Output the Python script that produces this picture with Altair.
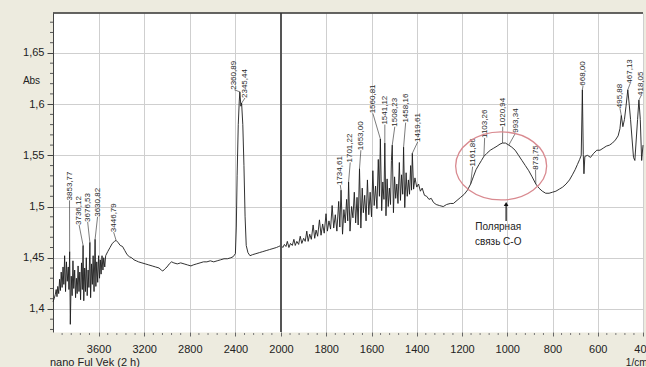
import altair as alt
import pandas as pd

# IR spectrum: wavenumber (1/cm) and absorbance, grouped by spectral region
region_oh = [
    (4000, 1.407), (3990, 1.410), (3980, 1.414), (3972, 1.419), (3965, 1.412),
    (3958, 1.422), (3950, 1.415), (3942, 1.429), (3935, 1.418), (3928, 1.436),
    (3920, 1.421), (3912, 1.441), (3905, 1.424), (3898, 1.452), (3890, 1.417),
    (3882, 1.446), (3875, 1.427), (3866, 1.441), (3860, 1.419), (3853.77, 1.456),
    (3848, 1.385), (3840, 1.432), (3832, 1.413), (3825, 1.447), (3818, 1.420),
    (3810, 1.438), (3802, 1.411), (3795, 1.430), (3788, 1.415), (3780, 1.442),
    (3772, 1.417), (3765, 1.436), (3758, 1.409), (3750, 1.445), (3743, 1.419),
    (3736.12, 1.462), (3730, 1.408), (3722, 1.440), (3715, 1.417), (3708, 1.450),
    (3700, 1.413), (3692, 1.438), (3685, 1.421), (3676.53, 1.465), (3670, 1.411),
    (3662, 1.444), (3655, 1.424), (3648, 1.452), (3640, 1.417), (3630.82, 1.468),
    (3624, 1.422), (3616, 1.446), (3608, 1.426), (3600, 1.452), (3592, 1.430),
    (3585, 1.448), (3578, 1.434), (3570, 1.452), (3562, 1.438), (3555, 1.450),
    (3546, 1.441), (3538, 1.452), (3520, 1.456), (3500, 1.460), (3480, 1.464),
    (3460, 1.466), (3446.79, 1.467), (3430, 1.465), (3410, 1.462), (3390, 1.461),
    (3370, 1.457), (3350, 1.453), (3330, 1.451), (3310, 1.450), (3290, 1.448),
    (3270, 1.447), (3250, 1.446), (3220, 1.445), (3190, 1.444), (3160, 1.443),
    (3130, 1.442), (3100, 1.441), (3070, 1.440), (3050, 1.438), (3037, 1.437),
    (3020, 1.439), (3000, 1.441), (2980, 1.444), (2960, 1.446), (2940, 1.445),
    (2910, 1.444), (2880, 1.445), (2850, 1.444), (2820, 1.443), (2790, 1.442),
    (2770, 1.443), (2740, 1.444), (2710, 1.445), (2680, 1.446), (2650, 1.446),
    (2620, 1.447), (2590, 1.446), (2560, 1.447), (2530, 1.448), (2500, 1.449),
    (2470, 1.449), (2440, 1.450), (2420, 1.451),
]

region_co2 = [
    (2400, 1.454), (2392, 1.480), (2385, 1.530), (2375, 1.580), (2366, 1.603),
    (2360.89, 1.612), (2352, 1.598), (2345.44, 1.601), (2335, 1.580), (2325, 1.540),
    (2315, 1.490), (2305, 1.462), (2290, 1.455), (2272, 1.452), (2250, 1.453),
    (2220, 1.454), (2190, 1.455), (2160, 1.456), (2130, 1.457), (2100, 1.458),
    (2070, 1.459), (2040, 1.460), (2020, 1.461),
]

region_fp1 = [
    (2000, 1.462), (1992, 1.460), (1985, 1.463), (1978, 1.461), (1972, 1.466),
    (1965, 1.460), (1958, 1.464), (1950, 1.462), (1943, 1.468), (1937, 1.462),
    (1930, 1.466), (1922, 1.463), (1915, 1.471), (1908, 1.464), (1900, 1.469),
    (1893, 1.466), (1886, 1.476), (1880, 1.466), (1873, 1.473), (1866, 1.468),
    (1858, 1.482), (1851, 1.469), (1845, 1.477), (1838, 1.471), (1830, 1.487),
    (1823, 1.472), (1816, 1.483), (1809, 1.474), (1801, 1.493), (1795, 1.476),
    (1788, 1.486), (1781, 1.478), (1774, 1.501), (1767, 1.479), (1760, 1.492),
    (1753, 1.476), (1745, 1.505), (1740, 1.480), (1734.61, 1.516), (1728, 1.473),
    (1722, 1.497), (1716, 1.484), (1710, 1.507), (1705, 1.486), (1701.22, 1.524),
    (1695, 1.476), (1688, 1.500), (1682, 1.489), (1676, 1.514), (1670, 1.484),
    (1664, 1.509), (1659, 1.482), (1653.00, 1.537), (1647, 1.479), (1641, 1.518),
    (1636, 1.494), (1630, 1.511), (1624, 1.486), (1618, 1.526), (1612, 1.492),
    (1606, 1.514), (1600, 1.490), (1594, 1.535), (1588, 1.501), (1582, 1.520),
    (1576, 1.498), (1570, 1.546), (1565, 1.510), (1560.81, 1.566), (1555, 1.496),
    (1550, 1.524), (1545, 1.507), (1541.12, 1.562), (1536, 1.491), (1531, 1.527),
    (1526, 1.500), (1521, 1.518), (1516, 1.502), (1512, 1.545), (1508.23, 1.560),
    (1503, 1.494), (1498, 1.529), (1493, 1.508), (1488, 1.522), (1483, 1.503),
    (1477, 1.543), (1472, 1.506), (1467, 1.531), (1462, 1.512), (1458.16, 1.558),
    (1453, 1.499), (1447, 1.533), (1442, 1.510), (1437, 1.526), (1432, 1.512),
    (1427, 1.540), (1423, 1.516), (1419.61, 1.552), (1414, 1.517), (1408, 1.528),
]

region_fp2 = [
    (1400, 1.519), (1392, 1.522), (1384, 1.515), (1376, 1.518), (1366, 1.511),
    (1356, 1.510), (1346, 1.507), (1336, 1.508), (1326, 1.504), (1314, 1.502),
    (1300, 1.501), (1283, 1.500), (1268, 1.502), (1252, 1.503), (1238, 1.503),
    (1222, 1.506), (1206, 1.509), (1190, 1.512), (1176, 1.516), (1161.86, 1.522),
    (1150, 1.529), (1138, 1.536), (1125, 1.541), (1114, 1.545), (1103.26, 1.549),
    (1090, 1.552), (1075, 1.555), (1060, 1.557), (1045, 1.559), (1032, 1.561),
    (1020.94, 1.562), (1008, 1.562), (993.34, 1.560), (980, 1.558), (965, 1.555),
    (950, 1.550), (935, 1.545), (920, 1.540), (905, 1.535), (890, 1.529),
    (873.75, 1.522), (860, 1.518), (845, 1.515), (830, 1.513), (815, 1.513),
    (800, 1.514), (785, 1.515), (770, 1.517), (755, 1.519), (740, 1.522),
    (725, 1.526), (712, 1.531), (700, 1.536), (690, 1.541), (680, 1.546),
    (673, 1.550), (668.00, 1.614), (664, 1.551), (661, 1.532), (657, 1.549),
    (645, 1.550), (632, 1.548), (618, 1.552), (604, 1.555), (590, 1.555),
    (576, 1.557), (562, 1.559), (548, 1.560), (535, 1.562), (522, 1.565),
    (510, 1.569), (502, 1.576), (495.88, 1.589), (489, 1.578), (482, 1.585),
    (475, 1.598), (467.13, 1.614), (461, 1.600), (455, 1.585), (448, 1.565),
    (442, 1.548), (436, 1.545), (430, 1.565), (424, 1.585), (418.05, 1.604),
    (412, 1.585), (406, 1.545), (400, 1.560),
]

# Peak annotations: text, peak position, and where the rotated label stands
peak_names = ["3853,77", "3736,12", "3676,53", "3630,82", "3446,79",
              "2360,89", "2345,44",
              "1734,61", "1701,22", "1653,00", "1560,81", "1541,12", "1508,23",
              "1458,16", "1419,61",
              "1161,86", "1103,26", "1020,94", "993,34", "873,75",
              "668,00", "495,88", "467,13", "418,05"]
peak_wn = [3853.77, 3736.12, 3676.53, 3630.82, 3446.79,
           2360.89, 2345.44,
           1734.61, 1701.22, 1653.00, 1560.81, 1541.12, 1508.23,
           1458.16, 1419.61,
           1161.86, 1103.26, 1020.94, 993.34, 873.75,
           668.00, 495.88, 467.13, 418.05]
label_wn = [3855, 3771, 3696, 3609, 3468,
            2409, 2316,
            1738, 1694, 1647, 1594, 1541, 1497, 1449, 1396,
            1153, 1100, 1020, 963, 875,
            665, 502, 457, 409]
label_abs = [1.506, 1.482, 1.485, 1.490, 1.475,
             1.614, 1.606,
             1.521, 1.543, 1.555, 1.591, 1.580, 1.578, 1.582, 1.563,
             1.539, 1.567, 1.578, 1.572, 1.536,
             1.618, 1.596, 1.620, 1.608]

x_ticks = [3600, 3200, 2800, 2400, 2000, 1800, 1600, 1400, 1200, 1000, 800, 600, 400]
y_ticks = [1.4, 1.45, 1.5, 1.55, 1.6, 1.65]
x_minor = [w for w in range(3920, 2000, -80) if w % 400] + [w for w in range(1960, 400, -40) if w % 200]
y_minor = [round(1.38 + 0.01 * i, 2) for i in range(31)]
y_minor = [v for v in y_minor if round(v * 100) % 5]

caption_lines = ["Полярная", "связь С-О"]
caption_wn = [1040, 1040]
caption_abs = [1.4801, 1.4655]

W, H = 590, 319
FONT = "Liberation Sans"

spectrum = pd.DataFrame(region_oh + region_co2 + region_fp1 + region_fp2,
                        columns=["wn", "absorb"])
lookup = dict(zip(spectrum["wn"], spectrum["absorb"]))
peaks = pd.DataFrame({
    "name": peak_names,
    "wn": peak_wn,
    "absorb": [lookup[w] for w in peak_wn],
    "lwn": label_wn,
    "labs": label_abs,
})

# Expanded scale below 2000 1/cm, as on the instrument printout
x_scale = alt.Scale(domain=[4000, 2000, 400], range=[0, 228, W], nice=False, zero=False)
y_scale = alt.Scale(domain=[1.3775, 1.689], nice=False, zero=False)

x_axis = alt.Axis(values=x_ticks, format="d", grid=True, gridColor="#cfcfcf", gridWidth=1,
                  domain=False, tickSize=4, tickColor="#666", labelFontSize=11,
                  labelColor="#222", labelPadding=7, labelFont=FONT, labelFlush=False,
                  labelOverlap=False, title="1/cm", titleX=W + 4, titleY=30,
                  titleAlign="right", titleBaseline="middle", titleFontSize=10,
                  titleFontWeight="normal", titleColor="#222", titleFont=FONT)
y_axis = alt.Axis(values=y_ticks, labelExpr="replace(format(datum.value, '.2~f'), '.', ',')",
                  grid=True, gridColor="#cfcfcf", gridWidth=1, domain=True,
                  domainColor="#444", domainWidth=1, tickSize=6, tickColor="#444",
                  labelPadding=3, labelFontSize=11, labelColor="#222", labelFont=FONT,
                  labelFlush=False, title="Abs", titleAngle=0, titleX=-22, titleY=67,
                  titleAlign="center", titleBaseline="middle", titleFontSize=10,
                  titleFontWeight="normal", titleColor="#222", titleFont=FONT)


def X(field):
    return alt.X(field, scale=x_scale, axis=x_axis)


def Y(field):
    return alt.Y(field, scale=y_scale, axis=y_axis)


line = alt.Chart(spectrum).mark_line(color="#1c1c1c", strokeWidth=0.9).encode(
    x=X("wn:Q"), y=Y("absorb:Q"))

split_rule = alt.Chart(pd.DataFrame({"wn": [2000]})).mark_rule(
    color="#555", strokeWidth=2).encode(x=X("wn:Q"))

one = pd.DataFrame({"k": [0]})
top_border = alt.Chart(one).mark_rule(color="#333", strokeWidth=1.5).encode(
    x=alt.value(0), x2=alt.value(W), y=alt.value(0))

x_minor_ticks = alt.Chart(pd.DataFrame({"wn": x_minor})).mark_rule(
    color="#777", strokeWidth=1).encode(
    x=X("wn:Q"), y=alt.value(H + 1), y2=alt.value(H + 3))

y_minor_ticks = alt.Chart(pd.DataFrame({"absorb": y_minor})).mark_rule(
    color="#555", strokeWidth=1).encode(
    y=Y("absorb:Q"), x=alt.value(-3), x2=alt.value(0))

leaders = alt.Chart(peaks).mark_rule(color="#444", strokeWidth=0.7).encode(
    x=X("wn:Q"), y=Y("absorb:Q"), x2="lwn:Q", y2="labs:Q")

peak_text = alt.Chart(peaks).mark_text(
    angle=270, align="left", baseline="middle", fontSize=8, color="#2a2a2a", font=FONT
).encode(x=X("lwn:Q"), y=Y("labs:Q"), text="name:N")

ELLIPSE = "M -1 0 A 1 0.747 0 1 1 1 0 A 1 0.747 0 1 1 -1 0 Z"
ring = alt.Chart(pd.DataFrame({"wn": [1027], "absorb": [1.5397]})).mark_point(
    shape=ELLIPSE, size=8281, filled=False, color="#d98a90", strokeWidth=1.3, opacity=1
).encode(x=X("wn:Q"), y=Y("absorb:Q"))

arrow_df = pd.DataFrame({"wn": [1005], "a0": [1.486], "a1": [1.5025]})
arrow_shaft = alt.Chart(arrow_df).mark_rule(color="#111", strokeWidth=1.2).encode(
    x=X("wn:Q"), y=Y("a0:Q"), y2="a1:Q")
arrow_head = alt.Chart(arrow_df).mark_point(
    shape="triangle-up", size=22, filled=True, color="#111", opacity=1
).encode(x=X("wn:Q"), y=Y("a1:Q"))

caption = alt.Chart(pd.DataFrame({"t": caption_lines, "wn": caption_wn, "absorb": caption_abs})
                    ).mark_text(fontSize=10, color="#222", font=FONT, align="center",
                                baseline="middle").encode(
    x=X("wn:Q"), y=Y("absorb:Q"), text="t:N")

footer = alt.Chart(one).mark_text(
    text="nano Ful Vek (2 h)", fontSize=11, color="#222", font=FONT,
    align="left", baseline="middle").encode(x=alt.value(-3), y=alt.value(350))

chart = alt.layer(
    line, split_rule, top_border, x_minor_ticks, y_minor_ticks,
    leaders, peak_text, ring, arrow_shaft, arrow_head, caption, footer
).properties(
    width=W, height=H,
    autosize=alt.AutoSizeParams(type="none"),
    padding={"left": 53, "top": 13, "right": 3, "bottom": 35},
    background="#EDEBDF",
).configure_view(stroke="transparent", fill="white")

chart.save("out.html", embed_options={"renderer": "svg", "actions": False})
